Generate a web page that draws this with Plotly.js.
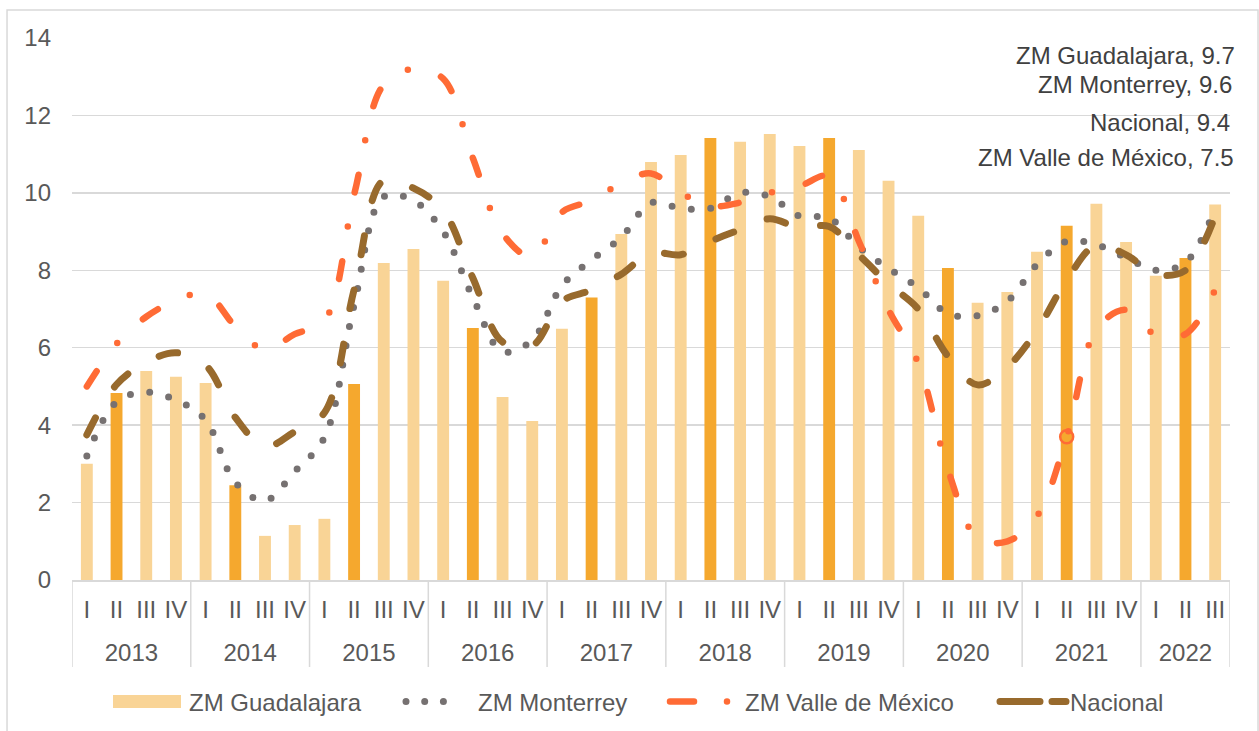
<!DOCTYPE html>
<html>
<head>
<meta charset="utf-8">
<script src="https://cdn.plot.ly/plotly-3.0.1.min.js"></script>
<style>
  html, body { margin: 0; padding: 0; background: #ffffff; }
  #chart { width: 1259px; height: 731px; }
</style>
</head>
<body>
<div id="chart"></div>
<script>
// Outer category level (year) and inner level (quarter)
const yearLabels = ['2013','2013','2013','2013','2014','2014','2014','2014','2015','2015','2015','2015',
  '2016','2016','2016','2016','2017','2017','2017','2017','2018','2018','2018','2018',
  '2019','2019','2019','2019','2020','2020','2020','2020','2021','2021','2021','2021',
  '2022','2022','2022'];
const quarterLabels = ['I','II','III','IV','I','II','III','IV','I','II','III','IV',
  'I','II','III','IV','I','II','III','IV','I','II','III','IV',
  'I','II','III','IV','I','II','III','IV','I','II','III','IV',
  'I','II','III'];

const seriesNames = ['ZM Guadalajara', 'ZM Monterrey', 'ZM Valle de México', 'Nacional'];

const guadalajara = [3.0, 4.83, 5.4, 5.25, 5.09, 2.45, 1.14, 1.42, 1.58, 5.06, 8.19, 8.55,
  7.73, 6.51, 4.73, 4.11, 6.49, 7.3, 8.94, 10.8, 10.98, 11.42, 11.32, 11.52,
  11.21, 11.42, 11.11, 10.31, 9.41, 8.06, 7.16, 7.44, 8.48, 9.15, 9.72, 8.73,
  7.86, 8.32, 9.7];

const monterrey = [3.2, 4.6, 4.85, 4.65, 4.13, 2.52, 2.05, 2.8, 3.68, 7.1, 9.9, 9.8,
  9.0, 7.3, 5.9, 6.2, 7.6, 8.27, 8.85, 9.74, 9.6, 9.6, 10.0, 9.9,
  9.4, 9.35, 8.6, 8.05, 7.55, 6.88, 6.83, 7.2, 8.15, 8.75, 8.66, 8.33,
  8.0, 8.2, 9.6];

const valle = [5.0, 6.1, 6.8, 7.22, 7.4, 6.55, 5.95, 6.35, 6.7, 9.95, 12.8, 13.2,
  12.95, 10.9, 8.95, 8.35, 9.5, 9.8, 10.25, 10.5, 10.0, 9.66, 9.75, 10.0,
  10.17, 10.43, 8.75, 6.98, 5.6, 2.85, 1.08, 1.0, 1.65, 3.7, 6.47, 6.98,
  6.33, 6.35, 7.5];

const nacional = [3.75, 5.05, 5.62, 5.87, 5.55, 4.2, 3.45, 3.83, 4.32, 7.5, 10.33, 10.12,
  9.55, 7.8, 6.15, 6.05, 7.2, 7.49, 7.9, 8.45, 8.4, 8.75, 9.05, 9.33,
  9.1, 9.13, 8.4, 7.65, 7.0, 5.78, 5.04, 5.5, 6.45, 7.75, 8.65, 8.4,
  7.9, 8.0, 9.4];

const highlightIndex = 33; // circled point on the Valle de México line

const colLight = '#F9D496';
const colDark = '#F5A82E';
const colGray = '#767171';
const colOrange = '#FF6B35';
const colBrown = '#986A2D';
const colGrid = '#D9D9D9';
const FONT = 'Liberation Sans, Arial, sans-serif';
const FS = 24;

// category ids for each period, and year groups derived from the labels
const periods = yearLabels.map((y, i) => y + ' ' + quarterLabels[i]);
const years = [...new Set(yearLabels)];
const yearCenters = years.map(y => {
  const first = yearLabels.indexOf(y), last = yearLabels.lastIndexOf(y);
  return (first + last) / 2;
});
const boundaries = [-0.5];
yearLabels.forEach((y, i) => { if (i > 0 && y !== yearLabels[i - 1]) boundaries.push(i - 0.5); });
boundaries.push(yearLabels.length - 0.5);

const barColors = quarterLabels.map(q => q === 'II' ? colDark : colLight);

const traces = [
  {
    type: 'bar', name: seriesNames[0], x: periods, y: guadalajara,
    marker: { color: barColors, line: { width: 0 } }, hoverinfo: 'skip'
  },
  {
    type: 'scatter', mode: 'lines', name: seriesNames[1], x: periods, y: monterrey,
    line: { color: colGray, width: 7, dash: '0px,19.5px', shape: 'spline', smoothing: 1 },
    hoverinfo: 'skip'
  },
  {
    type: 'scatter', mode: 'lines', name: seriesNames[2], x: periods, y: valle,
    line: { color: colOrange, width: 6.5, dash: '18px,35px,0px,35px', shape: 'spline', smoothing: 1 },
    hoverinfo: 'skip'
  },
  {
    type: 'scatter', mode: 'lines', name: seriesNames[3], x: periods, y: nacional,
    line: { color: colBrown, width: 7, dash: '19px,36px', shape: 'spline', smoothing: 1 },
    hoverinfo: 'skip'
  },
  {
    type: 'scatter', mode: 'markers', showlegend: false,
    x: [periods[highlightIndex]], y: [valle[highlightIndex]],
    marker: { symbol: 'circle-open', size: 13, color: colOrange, line: { width: 2.5, color: colOrange } },
    hoverinfo: 'skip'
  }
];

const lastVals = [guadalajara, monterrey, nacional, valle].map(a => a[a.length - 1]);
const labelDefs = [
  { name: seriesNames[0], v: lastVals[0], x: 1.006, y: 0.9668 },
  { name: seriesNames[1], v: lastVals[1], x: 1.0035, y: 0.9133 },
  { name: seriesNames[3], v: lastVals[2], x: 1.0017, y: 0.845 },
  { name: seriesNames[2], v: lastVals[3], x: 1.0052, y: 0.7786 }
];
const annotations = labelDefs.map(d => ({
  xref: 'paper', yref: 'paper', x: d.x, y: d.y, xanchor: 'right', yanchor: 'middle',
  text: d.name + ', ' + d.v.toFixed(1), showarrow: false,
  font: { family: FONT, size: FS, color: '#404040' }
}));

const shapes = [{
  type: 'rect', xref: 'paper', yref: 'paper', x0: -0.0561, x1: 1.0242, y0: -0.35, y1: 1.0517,
  line: { color: colGrid, width: 1.5 }, fillcolor: 'rgba(0,0,0,0)', layer: 'below'
}].concat(boundaries.map(b => ({
  type: 'line', xref: 'x2', yref: 'paper', x0: b, x1: b, y0: 0, y1: -0.1605,
  line: { color: colGrid, width: 1.5 }
})));

const xRange = [-0.5, periods.length - 0.5];

const layout = {
  width: 1259, height: 731,
  margin: { l: 72, r: 29, t: 38, b: 151, autoexpand: false },
  paper_bgcolor: '#ffffff', plot_bgcolor: '#ffffff',
  font: { family: FONT, size: FS, color: '#595959' },
  bargap: 0.6,
  showlegend: true,
  legend: {
    orientation: 'h', x: 0.0665, xanchor: 'left', y: -0.225, yanchor: 'middle',
    font: { size: FS, color: '#595959' }, entrywidth: 170, entrywidthmode: 'pixels',
    bgcolor: 'rgba(0,0,0,0)'
  },
  xaxis: {
    type: 'category', range: xRange, tickmode: 'array', tickvals: periods, ticktext: quarterLabels,
    showgrid: false, showline: true, linecolor: colGrid, linewidth: 1.5, ticks: '', tickangle: 0,
    ticklabelstandoff: 8, tickfont: { size: FS, color: '#595959' }, fixedrange: true
  },
  xaxis2: {
    type: 'linear', overlaying: 'x', anchor: 'y', side: 'bottom', range: xRange,
    tickmode: 'array', tickvals: yearCenters, ticktext: years, showgrid: false, zeroline: false,
    showline: false, ticks: '', tickangle: 0, ticklabelstandoff: 56,
    tickfont: { size: FS, color: '#595959' }, fixedrange: true
  },
  yaxis: {
    range: [0, 14], dtick: 2, showgrid: true, gridcolor: colGrid, gridwidth: 1.5,
    zeroline: false, showline: false, ticks: '', ticklabelstandoff: 20,
    tickfont: { size: FS, color: '#595959' }, fixedrange: true
  },
  annotations: annotations,
  shapes: shapes
};

// legend layout (style only): desired left edge of each legend text, and symbol span relative to it
const legendTextLeft = [189, 478, 745, 1070];
const legendSymbolSpans = [[-76, -8], [-72, -16], [-75, -16], [-70, -4]];

Plotly.newPlot('chart', traces, layout, { displayModeBar: false, staticPlot: true }).then(gd => {
  gd.querySelectorAll('.scatterlayer path.js-line').forEach(p => { p.style.strokeLinecap = 'round'; });
  gd.querySelectorAll('.legend [clip-path]').forEach(el => el.removeAttribute('clip-path'));
  const items = gd.querySelectorAll('.legend .traces');
  items.forEach((g, i) => {
    const t = g.querySelector('text.legendtext');
    if (!t) return;
    const r = t.getBoundingClientRect();
    const dx = legendTextLeft[i] - r.left;
    const m = /translate\(\s*([-\d.]+)[ ,]+([-\d.]+)\s*\)/.exec(g.getAttribute('transform') || '');
    const tx0 = m ? parseFloat(m[1]) : 0, ty0 = m ? parseFloat(m[2]) : 0;
    g.setAttribute('transform', 'translate(' + (tx0 + dx) + ',' + ty0 + ')');
    const tx = parseFloat(t.getAttribute('x')) || 40;
    const span = legendSymbolSpans[i];
    const len = span[1] - span[0];
    if (i === 0) {
      const p = g.querySelector('.legendpoints path');
      if (p) {
        p.setAttribute('transform', '');
        p.setAttribute('d', 'M' + (tx + span[0]) + ',-6.5h' + len + 'v13h-' + len + 'z');
      }
    } else {
      const p = g.querySelector('.legendlines path');
      if (p) {
        p.style.strokeLinecap = 'round';
        p.setAttribute('d', 'M' + (tx + span[0]) + ',0h' + len);
        if (i === 1) p.style.strokeDasharray = '0px,18.7px';
        if (i === 2) p.style.strokeDasharray = '24px,33px,0px,40px';
        if (i === 3) p.style.strokeDasharray = '40px,12px';
      }
    }
  });
});
</script>
</body>
</html>
